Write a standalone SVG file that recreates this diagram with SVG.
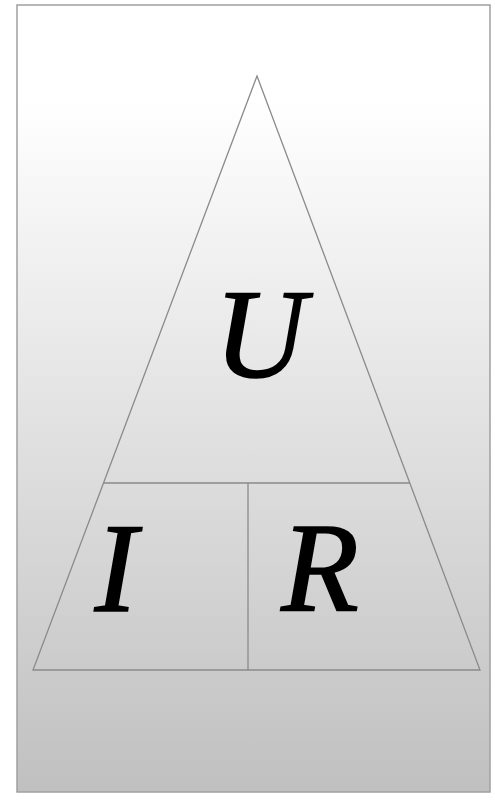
<svg xmlns="http://www.w3.org/2000/svg" width="495" height="801" viewBox="0 0 495 801">
<defs>
<linearGradient id="bg" x1="0" y1="0" x2="0" y2="1">
<stop offset="0" stop-color="#ffffff"/>
<stop offset="0.12" stop-color="#ffffff"/>
<stop offset="1" stop-color="#c0c0c0"/>
</linearGradient>
</defs>
<style>
.ln{stroke:#8a8a8a;stroke-width:1.3;fill:none}
.lbl{font-family:"Liberation Serif","Times New Roman",serif;font-style:italic;font-size:127px;fill:#000;stroke:#000;stroke-width:1.6;text-anchor:middle}
</style>
<rect x="17" y="5" width="473" height="787" fill="url(#bg)" stroke="#a0a0a0" stroke-width="1.5"/>
<g id="connectors">
<polygon class="ln" points="257,76 480,670 33,670"/>
<line class="ln" x1="103.5" y1="483" x2="409.8" y2="483"/>
<line class="ln" x1="248" y1="483" x2="248" y2="670"/>
</g>
<g id="U"><text class="lbl" x="260" y="377">U</text></g>
<g id="I"><text class="lbl" x="116" y="611">I</text></g>
<g id="R"><text class="lbl" x="320" y="611">R</text></g>
</svg>
